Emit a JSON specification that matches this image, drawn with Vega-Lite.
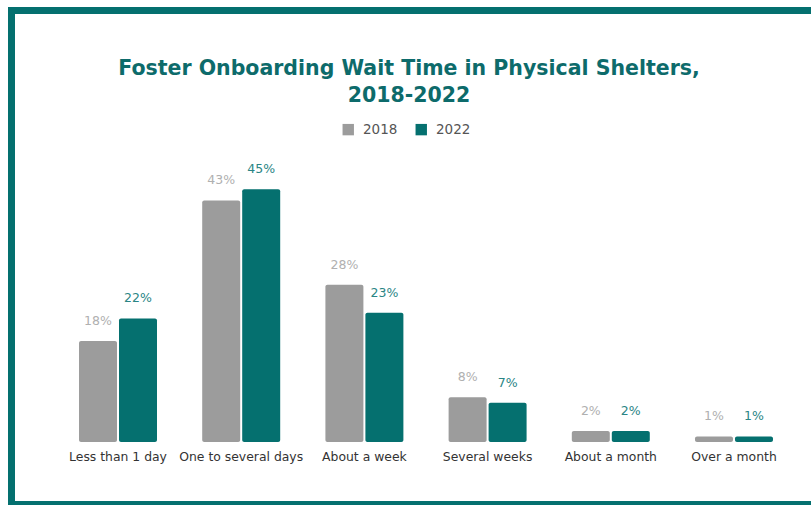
{
  "$schema": "https://vega.github.io/schema/vega-lite/v6.json",
  "width": 829,
  "height": 494,
  "autosize": {"type": "none"},
  "padding": {"left": 11.5, "top": 10.5, "right": 0, "bottom": 0},
  "background": "#ffffff",
  "config": {
    "view": {"stroke": "#04706f", "strokeWidth": 7},
    "font": "DejaVu Sans"
  },
  "title": {
    "text": ["Foster Onboarding Wait Time in Physical Shelters,", "2018-2022"],
    "font": "DejaVu Sans",
    "fontSize": 20.5,
    "fontWeight": "bold",
    "color": "#0d6b6b",
    "anchor": "middle",
    "offset": -96,
    "dx": -17,
    "lineHeight": 27
  },
  "data": {
    "values": [
      {"category": "Less than 1 day", "year": "2018", "value": 0.18},
      {"category": "Less than 1 day", "year": "2022", "value": 0.22},
      {"category": "One to several days", "year": "2018", "value": 0.43},
      {"category": "One to several days", "year": "2022", "value": 0.45},
      {"category": "About a week", "year": "2018", "value": 0.28},
      {"category": "About a week", "year": "2022", "value": 0.23},
      {"category": "Several weeks", "year": "2018", "value": 0.08},
      {"category": "Several weeks", "year": "2022", "value": 0.07},
      {"category": "About a month", "year": "2018", "value": 0.02},
      {"category": "About a month", "year": "2022", "value": 0.02},
      {"category": "Over a month", "year": "2018", "value": 0.01},
      {"category": "Over a month", "year": "2022", "value": 0.01}
    ]
  },
  "encoding": {
    "x": {
      "field": "category",
      "type": "nominal",
      "sort": null,
      "scale": {"paddingInner": 0.367, "paddingOuter": 0.548},
      "axis": {
        "title": null,
        "orient": "bottom",
        "offset": -62.5,
        "domain": false,
        "ticks": false,
        "labelAngle": 0,
        "labelPadding": 8,
        "labelFont": "DejaVu Sans",
        "labelFontSize": 12.4,
        "labelColor": "#333333"
      }
    },
    "xOffset": {
      "field": "year",
      "type": "nominal",
      "scale": {"paddingInner": 0.05, "paddingOuter": 0}
    },
    "y": {
      "field": "value",
      "type": "quantitative",
      "scale": {"domain": [-0.111, 0.768], "nice": false, "zero": false},
      "axis": null
    }
  },
  "layer": [
    {
      "mark": {"type": "bar", "cornerRadius": 2},
      "encoding": {
        "y2": {"datum": 0},
        "color": {
          "field": "year",
          "type": "nominal",
          "scale": {"domain": ["2018", "2022"], "range": ["#9c9c9c", "#05706f"]},
          "legend": {
            "title": null,
            "orient": "none",
            "direction": "horizontal",
            "legendX": 330,
            "legendY": 112,
            "symbolType": "square",
            "symbolSize": 130,
            "symbolStrokeWidth": 0,
            "labelFont": "DejaVu Sans",
            "labelFontSize": 13.5,
            "labelOffset": 8,
            "labelColor": "#555555",
            "columnPadding": 17
          }
        }
      }
    },
    {
      "mark": {"type": "text", "baseline": "middle", "dy": -20, "fontSize": 12.5, "font": "DejaVu Sans"},
      "encoding": {
        "text": {"field": "value", "type": "quantitative", "format": ".0%"},
        "color": {
          "condition": {"test": "datum.year === '2018'", "value": "#b0b0b0"},
          "value": "#2a8585"
        },
        "fontWeight": {
          "condition": {"test": "datum.year === '2018'", "value": "normal"},
          "value": "bold"
        }
      }
    }
  ]
}
